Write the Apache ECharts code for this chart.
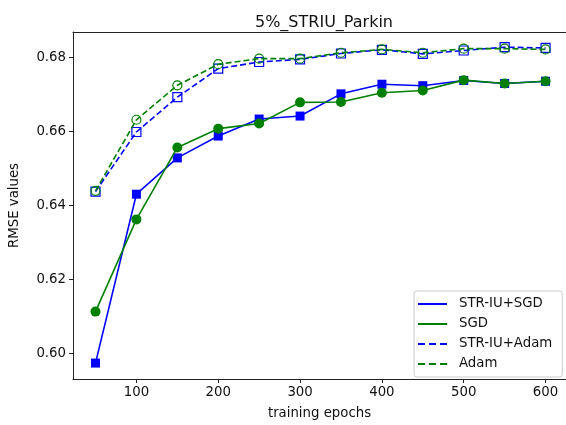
<!DOCTYPE html>
<html>
<head>
<meta charset="utf-8">
<script src="https://cdn.jsdelivr.net/npm/echarts@6/dist/echarts.min.js"></script>
<style>
    html, body { margin: 0; padding: 0; background: #fff; }
    #chart { width: 566px; height: 425px; }
</style>
</head>
<body>
<div id="chart"></div>
<script>
// training epochs
const epochs = [50, 100, 150, 200, 250, 300, 350, 400, 450, 500, 550, 600];

// RMSE values
const strSgd  = [0.5974, 0.6430, 0.6528, 0.6587, 0.6633, 0.6641, 0.6701, 0.6727, 0.6723, 0.6737, 0.6729, 0.6735];
const sgd     = [0.6113, 0.6362, 0.6556, 0.6607, 0.6621, 0.6678, 0.6679, 0.6704, 0.6710, 0.6738, 0.6729, 0.6735];
const strAdam = [0.6437, 0.6598, 0.6692, 0.6769, 0.6787, 0.6794, 0.6810, 0.6820, 0.6809, 0.6818, 0.6827, 0.6825];
const adam    = [0.6439, 0.6631, 0.6724, 0.6781, 0.6796, 0.6796, 0.6812, 0.6821, 0.6812, 0.6823, 0.6823, 0.6821];

const xTicks = [100, 200, 300, 400, 500, 600];
const yTicks = [0.60, 0.62, 0.64, 0.66, 0.68];

const BLUE = "#0000ff";
const GREEN = "#008000";
const FONT = "DejaVu Sans";

const solidIcon = "path://M0,0h29v2h-29z";
const dashIcon = "path://M0,0h7v2h-7z M11,0h7v2h-7z M22,0h7v2h-7z";

function pairs(ys) {
    return epochs.map((x, i) => [x, ys[i]]);
}

const chart = echarts.init(document.getElementById("chart"), null, { renderer: "canvas" });

chart.setOption({
    animation: false,
    backgroundColor: "#fff",
    textStyle: { fontFamily: FONT },
    title: {
        text: "5%_STRIU_Parkin",
        left: 319,
        top: 10,
        textAlign: "center",
        textStyle: { fontFamily: FONT, fontSize: 16, fontWeight: "normal", color: "#111" },
    },
    grid: {
        left: 71,
        top: 32,
        right: 0,
        bottom: 44,
    },
    legend: {
        orient: "vertical",
        left: 414,
        top: 291,
        width: 148,
        padding: [6, 10, 6, 4],
        itemGap: 6,
        itemWidth: 29,
        itemHeight: 2,
        backgroundColor: "rgba(255,255,255,0.8)",
        borderColor: "#cccccc",
        borderWidth: 1,
        borderRadius: 3,
        textStyle: { fontFamily: FONT, fontSize: 13.3, color: "#111", lineHeight: 14, padding: [0, 0, 0, 7] },
        data: [
            { name: "STR-IU+SGD", icon: solidIcon, itemStyle: { color: BLUE, borderWidth: 0 } },
            { name: "SGD", icon: solidIcon, itemStyle: { color: GREEN, borderWidth: 0 } },
            { name: "STR-IU+Adam", icon: dashIcon, itemStyle: { color: BLUE, borderWidth: 0 } },
            { name: "Adam", icon: dashIcon, itemStyle: { color: GREEN, borderWidth: 0 } },
        ],
    },
    xAxis: [
        {
            type: "value",
            min: 22.5,
            max: 625,
            name: "training epochs",
            nameLocation: "middle",
            nameGap: 28,
            nameTextStyle: { fontFamily: FONT, fontSize: 13.3, color: "#111" },
            axisLine: { show: true, lineStyle: { color: "#222", width: 1 } },
            axisTick: { show: true, length: 4, customValues: xTicks, lineStyle: { color: "#222" } },
            axisLabel: { customValues: xTicks, margin: 7, fontFamily: FONT, fontSize: 13.3, color: "#111" },
            splitLine: { show: false },
        },
        {
            // top spine only
            type: "value",
            position: "top",
            min: 22.5,
            max: 625,
            axisLine: { show: true, lineStyle: { color: "#222", width: 1 } },
            axisTick: { show: false },
            axisLabel: { show: false },
            splitLine: { show: false },
        },
    ],
    yAxis: {
        type: "value",
        min: 0.5931,
        max: 0.6868,
        name: "RMSE values",
        nameLocation: "middle",
        nameGap: 52,
        nameTextStyle: { fontFamily: FONT, fontSize: 13.3, color: "#111" },
        axisLine: { show: true, lineStyle: { color: "#222", width: 1 } },
        axisTick: { show: true, length: 4, customValues: yTicks, lineStyle: { color: "#222" } },
        axisLabel: {
            customValues: yTicks,
            margin: 7,
            fontFamily: FONT,
            fontSize: 13.3,
            color: "#111",
            formatter: (v) => v.toFixed(2),
        },
        splitLine: { show: false },
    },
    series: [
        {
            name: "STR-IU+SGD",
            type: "line",
            data: pairs(strSgd),
            color: BLUE,
            symbol: "rect",
            symbolSize: 9,
            lineStyle: { width: 1.6, color: BLUE },
            itemStyle: { color: BLUE },
            z: 2,
        },
        {
            name: "SGD",
            type: "line",
            data: pairs(sgd),
            color: GREEN,
            symbol: "circle",
            symbolSize: 10,
            lineStyle: { width: 1.6, color: GREEN },
            itemStyle: { color: GREEN },
            z: 3,
        },
        {
            name: "STR-IU+Adam",
            type: "line",
            data: pairs(strAdam),
            color: BLUE,
            symbol: "rect",
            symbolSize: 9,
            lineStyle: { width: 1.6, color: BLUE, type: [6, 3] },
            itemStyle: { color: "rgba(0,0,0,0)", borderColor: BLUE, borderWidth: 1.2 },
            z: 4,
        },
        {
            name: "Adam",
            type: "line",
            data: pairs(adam),
            color: GREEN,
            symbol: "circle",
            symbolSize: 9,
            lineStyle: { width: 1.6, color: GREEN, type: [6, 3] },
            itemStyle: { color: "rgba(0,0,0,0)", borderColor: GREEN, borderWidth: 1.2 },
            z: 5,
        },
    ],
});
</script>
</body>
</html>
